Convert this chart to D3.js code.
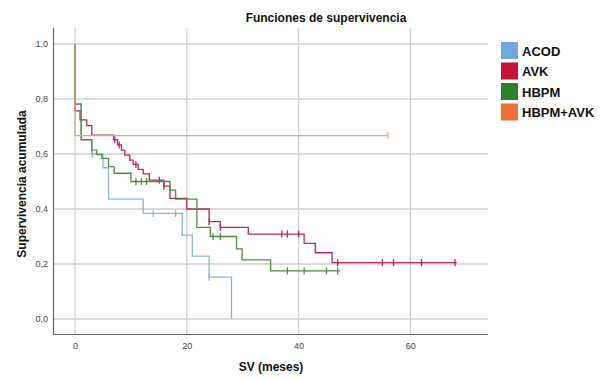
<!DOCTYPE html>
<html>
<head>
<meta charset="utf-8">
<script src="https://cdn.jsdelivr.net/npm/d3@7"></script>
<style>
  html, body { margin: 0; padding: 0; background: #fff; }
  svg { display: block; font-family: "Liberation Sans", Arial, sans-serif; }
</style>
</head>
<body>
<svg id="chart" width="600" height="378"></svg>
<script>
// ---- data ----
const seriesNames = ["ACOD", "AVK", "HBPM", "HBPM+AVK"];

const acodTimes = [0, 0, 1.1, 3.0, 5.0, 6.0, 12.2, 19.2, 21.0, 24.0, 28.0];
const acodSurv  = [1, 0.78, 0.651, 0.60, 0.55, 0.436, 0.384, 0.305, 0.229, 0.152, 0.0];
const acodCensored = [3.1, 14, 18, 24];

const avkTimes = [0, 0, 0.9, 2.1, 3.0, 6.9, 7.6, 8.3, 8.9, 9.8, 10.4, 11.3, 12.2, 13.3, 15.9, 17.0, 20.0, 24.0, 26.0, 31.0, 41.0, 43.0, 46.0, 68.3];
const avkSurv  = [1, 0.757, 0.724, 0.703, 0.669, 0.652, 0.633, 0.614, 0.596, 0.578, 0.562, 0.544, 0.528, 0.505, 0.483, 0.439, 0.40, 0.354, 0.333, 0.309, 0.275, 0.241, 0.205, 0.205];
const avkCensored = [7.1, 7.9, 10.9, 15.1, 15.9, 24, 26, 37, 38, 40, 47, 55, 57, 62, 68];

const hbpmTimes = [0, 0, 1.1, 3.0, 3.9, 4.8, 6.0, 7.0, 10.0, 17.0, 18.0, 21.8, 24.2, 28.9, 29.9, 35.0, 47.4];
const hbpmSurv  = [1, 0.782, 0.652, 0.614, 0.598, 0.584, 0.554, 0.53, 0.5, 0.469, 0.436, 0.333, 0.3, 0.255, 0.215, 0.175, 0.175];
const hbpmCensored = [10.9, 11.9, 12.8, 24.7, 26, 38, 41, 45, 47];

const hbpmAvkTimes = [0, 0, 56];
const hbpmAvkSurv  = [1, 0.667, 0.667];
const hbpmAvkCensored = [56];

const xTicks = [0, 20, 40, 60];
const yTicks = [0, 0.2, 0.4, 0.6, 0.8, 1.0];

const lineColors   = ["#8fb3d6", "#b8294f", "#4f8c3f", "#dba584"];
const legendColors = ["#70a8de", "#c8103c", "#2e7f2e", "#f07033"];

// ---- layout ----
const svg = d3.select("#chart");
const pLeft = 53, pRight = 488, pTop = 28, pBottom = 334;

const x = d3.scaleLinear().domain([-3.94, 73.9]).range([pLeft, pRight]);
const y = d3.scaleLinear().domain([-0.0545, 1.0582]).range([pBottom, pTop]);

// grid
svg.append("g").selectAll("line").data(xTicks).join("line")
  .attr("x1", d => x(d)).attr("x2", d => x(d))
  .attr("y1", pTop).attr("y2", pBottom)
  .attr("stroke", "#cfcfcf").attr("stroke-width", 1.3);
svg.append("g").selectAll("line").data(yTicks).join("line")
  .attr("x1", pLeft).attr("x2", pRight)
  .attr("y1", d => y(d)).attr("y2", d => y(d))
  .attr("stroke", "#cfcfcf").attr("stroke-width", 1.3);

// axes
const xAxis = d3.axisBottom(x).tickValues(xTicks).tickSize(0).tickPadding(9).tickFormat(d3.format("d"));
const yAxis = d3.axisLeft(y).tickValues(yTicks).tickSize(0).tickPadding(5)
  .tickFormat(d => d3.format(".1f")(d).replace(".", ","));

const gx = svg.append("g").attr("transform", `translate(0,${pBottom})`).call(xAxis);
gx.select(".domain").attr("d", `M${pLeft},0.5H${pRight}`).attr("stroke", "#666").attr("stroke-width", 1.2);
gx.selectAll("text").attr("font-size", 9).attr("fill", "#444").attr("font-family", "Liberation Sans, Arial, sans-serif");

const gy = svg.append("g").attr("transform", `translate(${pLeft},0)`).call(yAxis);
gy.select(".domain").attr("d", `M0.5,${pTop}V${pBottom}`).attr("stroke", "#666").attr("stroke-width", 1.2);
gy.selectAll("text").attr("font-size", 9).attr("fill", "#444").attr("font-family", "Liberation Sans, Arial, sans-serif");

// curves
const series = [
  {times: acodTimes, surv: acodSurv, cens: acodCensored},
  {times: avkTimes, surv: avkSurv, cens: avkCensored},
  {times: hbpmTimes, surv: hbpmSurv, cens: hbpmCensored},
  {times: hbpmAvkTimes, surv: hbpmAvkSurv, cens: hbpmAvkCensored}
];

const line = d3.line().x(d => x(d[0])).y(d => y(d[1])).curve(d3.curveStepAfter);

function survAt(s, t) {
  let v = s.surv[0];
  for (let i = 0; i < s.times.length; i++) if (s.times[i] <= t + 1e-9) v = s.surv[i];
  return v;
}

series.forEach((s, i) => {
  const pts = s.times.map((t, j) => [t, s.surv[j]]);
  const g = svg.append("g");
  g.append("path").attr("d", line(pts)).attr("fill", "none")
    .attr("stroke", lineColors[i]).attr("stroke-width", 1.3);
  g.selectAll("line.c").data(s.cens).join("line").attr("class", "c")
    .attr("x1", d => x(d)).attr("x2", d => x(d))
    .attr("y1", d => y(survAt(s, d)) - 3.5).attr("y2", d => y(survAt(s, d)) + 3.5)
    .attr("stroke", lineColors[i]).attr("stroke-width", 1.3);
});

// titles
svg.append("text").attr("x", 326).attr("y", 22).attr("text-anchor", "middle")
  .attr("font-size", 12).attr("font-weight", "bold").attr("fill", "#111")
  .text("Funciones de supervivencia");
svg.append("text").attr("x", 271).attr("y", 371).attr("text-anchor", "middle")
  .attr("font-size", 12).attr("font-weight", "bold").attr("fill", "#111")
  .text("SV (meses)");
svg.append("text").attr("transform", "translate(26,184) rotate(-90)").attr("text-anchor", "middle")
  .attr("font-size", 12).attr("font-weight", "bold").attr("fill", "#111")
  .text("Supervivencia acumulada");

// legend
const leg = svg.append("g").selectAll("g").data(seriesNames).join("g")
  .attr("transform", (d, i) => `translate(501,${42 + i * 20.5})`);
leg.append("rect").attr("width", 17).attr("height", 17).attr("fill", (d, i) => legendColors[i]);
leg.append("text").attr("x", 21).attr("y", 13.5).attr("font-size", 13).attr("font-weight", "bold")
  .attr("fill", "#111").text(d => d);
</script>
</body>
</html>
